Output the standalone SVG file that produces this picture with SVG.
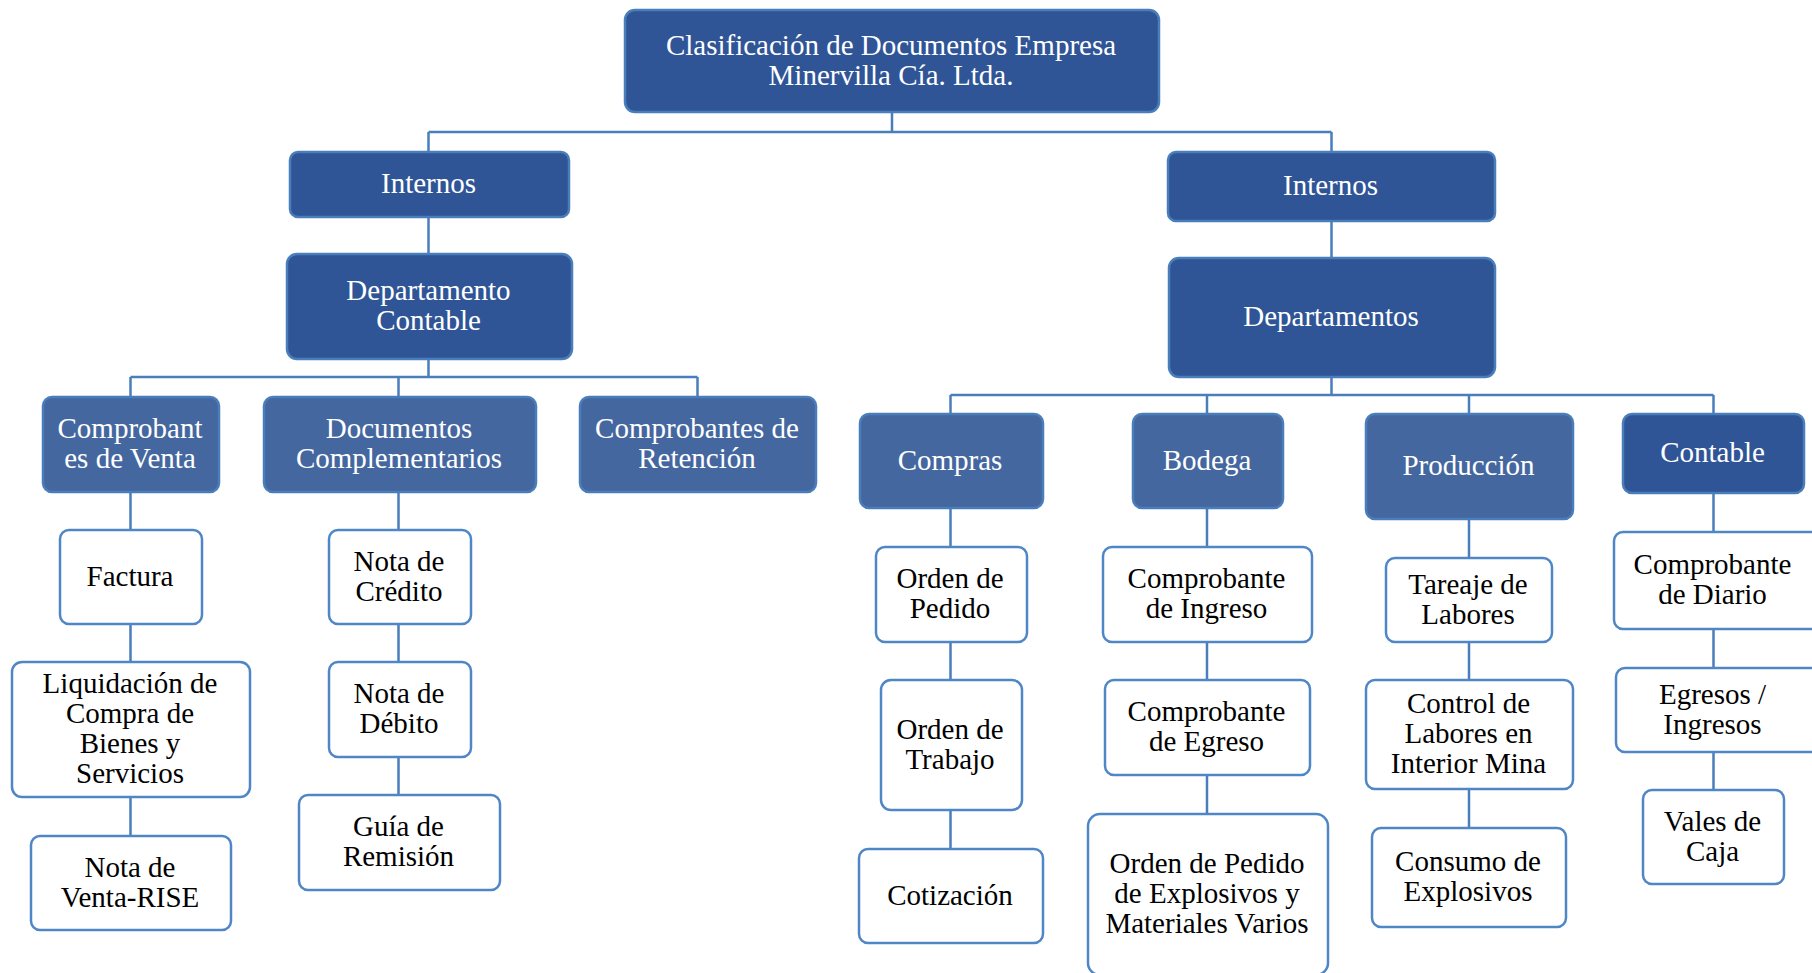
<svg xmlns="http://www.w3.org/2000/svg" width="1812" height="973" viewBox="0 0 1812 973">
<style>
.dk{fill:#2F5597;stroke:#4A7EBB;stroke-width:2.5}
.md{fill:#4567A0;stroke:#4A7EBB;stroke-width:2.5}
.lf{fill:#FFFFFF;stroke:#4F86C6;stroke-width:2.5}
.c{fill:none;stroke:#4A7EBB;stroke-width:2.5}
text{font-family:"Liberation Serif","Times New Roman",serif;font-size:29px;text-anchor:middle;transform:translate(-1px,-1.5px)}
.w{fill:#FFFFFF}
.b{fill:#000000}
</style>
<rect width="1812" height="973" fill="#FFFFFF"/>
<g id="connectors">
<path class="c" d="M892,112V132M428.5,132H1331.5M428.5,132V152M1331.5,132V152"/>
<path class="c" d="M428.5,217V254M1331.5,221V258"/>
<path class="c" d="M428.5,359V377M130.5,377H697.5M130.5,377V397M398.5,377V397M697.5,377V397"/>
<path class="c" d="M1331.5,377V395M950.5,395H1713.5M950.5,395V414M1207,395V414M1469,395V414M1713.5,395V414"/>
<path class="c" d="M130.5,492V530M130.5,624V662M130.5,797V836"/>
<path class="c" d="M398.5,492V530M398.5,624V662M398.5,757V795"/>
<path class="c" d="M950.5,508V547M950.5,642V680M950.5,810V849"/>
<path class="c" d="M1207,508V547M1207,642V680M1207,775V814"/>
<path class="c" d="M1469,519V558M1469,642V680M1469,789V828"/>
<path class="c" d="M1713.5,493V532M1713.5,629V668M1713.5,752V790"/>
</g>
<g id="root"><rect class="dk" x="625" y="10" width="534" height="102" rx="10"/><text class="w" x="892"><tspan x="892" y="56">Clasificación de Documentos Empresa</tspan><tspan x="892" y="86">Minervilla Cía. Ltda.</tspan></text></g>
<g id="internos-l"><rect class="dk" x="290" y="152" width="279" height="65" rx="8"/><text class="w" x="429.5" y="194.5">Internos</text></g>
<g id="internos-r"><rect class="dk" x="1168" y="152" width="327" height="69" rx="8"/><text class="w" x="1331.5" y="196.5">Internos</text></g>
<g id="dep-contable"><rect class="dk" x="287" y="254" width="285" height="105" rx="10"/><text class="w"><tspan x="429.5" y="301.5">Departamento</tspan><tspan x="429.5" y="331.5">Contable</tspan></text></g>
<g id="departamentos"><rect class="dk" x="1169" y="258" width="326" height="119" rx="10"/><text class="w" x="1332" y="327.5">Departamentos</text></g>
<g id="comp-venta"><rect class="md" x="43" y="397" width="176" height="95" rx="9"/><text class="w"><tspan x="131" y="439.5">Comprobant</tspan><tspan x="131" y="469.5">es de Venta</tspan></text></g>
<g id="doc-comp"><rect class="md" x="264" y="397" width="272" height="95" rx="9"/><text class="w"><tspan x="400" y="439.5">Documentos</tspan><tspan x="400" y="469.5">Complementarios</tspan></text></g>
<g id="comp-ret"><rect class="md" x="580" y="397" width="236" height="95" rx="9"/><text class="w"><tspan x="698" y="439.5">Comprobantes de</tspan><tspan x="698" y="469.5">Retención</tspan></text></g>
<g id="compras"><rect class="md" x="860" y="414" width="183" height="94" rx="9"/><text class="w" x="951" y="471">Compras</text></g>
<g id="bodega"><rect class="md" x="1133" y="414" width="150" height="94" rx="9"/><text class="w" x="1208" y="471">Bodega</text></g>
<g id="produccion"><rect class="md" x="1366" y="414" width="207" height="105" rx="9"/><text class="w" x="1469.5" y="476.5">Producción</text></g>
<g id="contable"><rect class="dk" x="1623" y="414" width="181" height="79" rx="9"/><text class="w" x="1713.5" y="463.5">Contable</text></g>
<g id="factura"><rect class="lf" x="60" y="530" width="142" height="94" rx="9"/><text class="b" x="131" y="587">Factura</text></g>
<g id="liquidacion"><rect class="lf" x="12" y="662" width="238" height="135" rx="10"/><text class="b"><tspan x="131" y="694.5">Liquidación de</tspan><tspan x="131" y="724.5">Compra de</tspan><tspan x="131" y="754.5">Bienes y</tspan><tspan x="131" y="784.5">Servicios</tspan></text></g>
<g id="nota-venta"><rect class="lf" x="31" y="836" width="200" height="94" rx="9"/><text class="b"><tspan x="131" y="878">Nota de</tspan><tspan x="131" y="908">Venta-RISE</tspan></text></g>
<g id="nota-credito"><rect class="lf" x="329" y="530" width="142" height="94" rx="9"/><text class="b"><tspan x="400" y="572">Nota de</tspan><tspan x="400" y="602">Crédito</tspan></text></g>
<g id="nota-debito"><rect class="lf" x="329" y="662" width="142" height="95" rx="9"/><text class="b"><tspan x="400" y="704.5">Nota de</tspan><tspan x="400" y="734.5">Débito</tspan></text></g>
<g id="guia"><rect class="lf" x="299" y="795" width="201" height="95" rx="9"/><text class="b"><tspan x="399.5" y="837.5">Guía de</tspan><tspan x="399.5" y="867.5">Remisión</tspan></text></g>
<g id="orden-pedido"><rect class="lf" x="876" y="547" width="151" height="95" rx="9"/><text class="b"><tspan x="951" y="589.5">Orden de</tspan><tspan x="951" y="619.5">Pedido</tspan></text></g>
<g id="orden-trabajo"><rect class="lf" x="881" y="680" width="141" height="130" rx="10"/><text class="b"><tspan x="951" y="740">Orden de</tspan><tspan x="951" y="770">Trabajo</tspan></text></g>
<g id="cotizacion"><rect class="lf" x="859" y="849" width="184" height="94" rx="9"/><text class="b" x="951" y="906">Cotización</text></g>
<g id="comp-ingreso"><rect class="lf" x="1103" y="547" width="209" height="95" rx="9"/><text class="b"><tspan x="1207.5" y="589.5">Comprobante</tspan><tspan x="1207.5" y="619.5">de Ingreso</tspan></text></g>
<g id="comp-egreso"><rect class="lf" x="1105" y="680" width="205" height="95" rx="9"/><text class="b"><tspan x="1207.5" y="722.5">Comprobante</tspan><tspan x="1207.5" y="752.5">de Egreso</tspan></text></g>
<g id="orden-explosivos"><rect class="lf" x="1088" y="814" width="240" height="161" rx="12"/><text class="b"><tspan x="1208" y="874">Orden de Pedido</tspan><tspan x="1208" y="904">de Explosivos y</tspan><tspan x="1208" y="934">Materiales Varios</tspan></text></g>
<g id="tareaje"><rect class="lf" x="1386" y="558" width="166" height="84" rx="9"/><text class="b"><tspan x="1469" y="595">Tareaje de</tspan><tspan x="1469" y="625">Labores</tspan></text></g>
<g id="control"><rect class="lf" x="1366" y="680" width="207" height="109" rx="9"/><text class="b"><tspan x="1469.5" y="714.5">Control de</tspan><tspan x="1469.5" y="744.5">Labores en</tspan><tspan x="1469.5" y="774.5">Interior Mina</tspan></text></g>
<g id="consumo"><rect class="lf" x="1372" y="828" width="194" height="99" rx="9"/><text class="b"><tspan x="1469" y="872.5">Consumo de</tspan><tspan x="1469" y="902.5">Explosivos</tspan></text></g>
<g id="comp-diario"><rect class="lf" x="1614" y="532" width="210" height="97" rx="9"/><text class="b"><tspan x="1713.5" y="575.5">Comprobante</tspan><tspan x="1713.5" y="605.5">de Diario</tspan></text></g>
<g id="egresos"><rect class="lf" x="1616" y="668" width="208" height="84" rx="9"/><text class="b"><tspan x="1713.5" y="705">Egresos /</tspan><tspan x="1713.5" y="735">Ingresos</tspan></text></g>
<g id="vales"><rect class="lf" x="1643" y="790" width="141" height="94" rx="9"/><text class="b"><tspan x="1713.5" y="832">Vales de</tspan><tspan x="1713.5" y="862">Caja</tspan></text></g>
</svg>
